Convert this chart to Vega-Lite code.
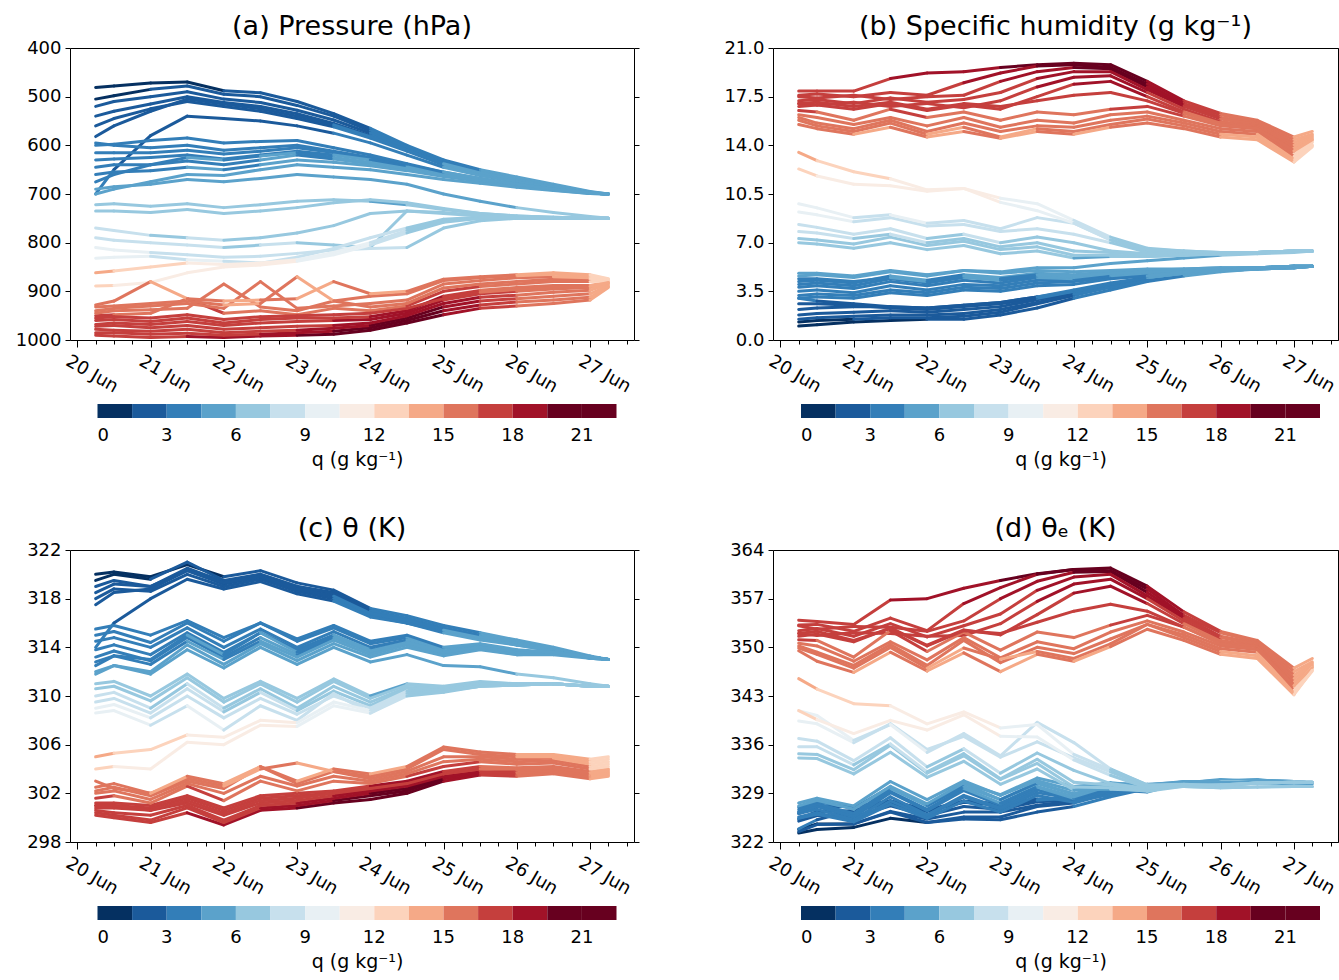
{
"$schema":"https://vega.github.io/schema/vega-lite/v6.json",
"padding":{"left":14,"top":12,"right":0,"bottom":0},
"background":"white",
"data":{"values":[
{"i":1,"d":20.25,"p":481,"q":1.0,"t":320.0,"e":323.3},{"i":1,"d":20.5,"p":478,"q":1.1,"t":320.2,"e":323.8},{"i":1,"d":21,"p":472,"q":1.3,"t":319.8,"e":324.1},{"i":1,"d":21.5,"p":470,"q":1.4,"t":320.8,"e":325.4},{"i":1,"d":22,"p":488,"q":1.5,"t":319.8,"e":324.8},{"i":1,"d":22.5,"p":492,"q":1.5,"t":320.3,"e":325.3},{"i":1,"d":23,"p":510,"q":1.8,"t":319.3,"e":325.2},{"i":1,"d":23.5,"p":535,"q":2.3,"t":318.7,"e":326.3},{"i":1,"d":24,"p":565,"q":3.0,"t":317.2,"e":327.1},{"i":1,"d":24.5,"p":600,"q":3.6,"t":316.6,"e":328.5},{"i":1,"d":25,"p":630,"q":4.2,"t":315.8,"e":329.7},{"i":1,"d":25.5,"p":650,"q":4.6,"t":315.2,"e":330.4},{"i":1,"d":26,"p":665,"q":4.9,"t":314.6,"e":330.8},{"i":1,"d":26.5,"p":680,"q":5.1,"t":314.0,"e":330.8},{"i":1,"d":27,"p":695,"q":5.2,"t":313.3,"e":330.5},{"i":1,"d":27.25,"p":700,"q":5.3,"t":313.0,"e":330.5},
{"i":2,"d":20.25,"p":505,"q":1.3,"t":319.5,"e":323.8},{"i":2,"d":20.5,"p":498,"q":1.4,"t":320.0,"e":324.6},{"i":2,"d":21,"p":485,"q":1.5,"t":319.6,"e":324.6},{"i":2,"d":21.5,"p":478,"q":1.6,"t":321.0,"e":326.3},{"i":2,"d":22,"p":495,"q":1.6,"t":319.5,"e":324.8},{"i":2,"d":22.5,"p":500,"q":1.7,"t":320.0,"e":325.6},{"i":2,"d":23,"p":518,"q":2.0,"t":319.0,"e":325.6},{"i":2,"d":23.5,"p":540,"q":2.6,"t":318.5,"e":327.1},{"i":2,"d":24,"p":570,"q":3.2,"t":317.0,"e":327.6},{"i":2,"d":24.5,"p":603,"q":3.8,"t":316.4,"e":329.0},{"i":2,"d":25,"p":632,"q":4.3,"t":315.6,"e":329.8},{"i":2,"d":25.5,"p":652,"q":4.7,"t":315.0,"e":330.5},{"i":2,"d":26,"p":667,"q":5.0,"t":314.5,"e":331.0},{"i":2,"d":26.5,"p":682,"q":5.1,"t":313.9,"e":330.7},{"i":2,"d":27,"p":696,"q":5.2,"t":313.2,"e":330.4},{"i":2,"d":27.25,"p":700,"q":5.3,"t":313.0,"e":330.5},
{"i":3,"d":20.25,"p":520,"q":1.8,"t":319.0,"e":325.0},{"i":3,"d":20.5,"p":510,"q":1.9,"t":319.5,"e":325.8},{"i":3,"d":21,"p":500,"q":2.0,"t":319.0,"e":325.6},{"i":3,"d":21.5,"p":490,"q":2.1,"t":320.3,"e":327.2},{"i":3,"d":22,"p":505,"q":2.0,"t":319.2,"e":325.8},{"i":3,"d":22.5,"p":512,"q":2.2,"t":319.8,"e":327.1},{"i":3,"d":23,"p":528,"q":2.4,"t":318.8,"e":326.7},{"i":3,"d":23.5,"p":548,"q":2.9,"t":318.2,"e":327.8},{"i":3,"d":24,"p":575,"q":3.4,"t":316.8,"e":328.0},{"i":3,"d":24.5,"p":606,"q":3.9,"t":316.2,"e":329.1},{"i":3,"d":25,"p":635,"q":4.4,"t":315.4,"e":329.9},{"i":3,"d":25.5,"p":655,"q":4.8,"t":314.8,"e":330.6},{"i":3,"d":26,"p":670,"q":5.0,"t":314.3,"e":330.8},{"i":3,"d":26.5,"p":684,"q":5.2,"t":313.8,"e":331.0},{"i":3,"d":27,"p":697,"q":5.2,"t":313.2,"e":330.4},{"i":3,"d":27.25,"p":700,"q":5.3,"t":313.0,"e":330.5},
{"i":4,"d":20.25,"p":540,"q":1.5,"t":318.5,"e":323.5},{"i":4,"d":20.5,"p":530,"q":1.6,"t":319.2,"e":324.5},{"i":4,"d":21,"p":515,"q":1.7,"t":319.0,"e":324.6},{"i":4,"d":21.5,"p":500,"q":1.8,"t":320.5,"e":326.4},{"i":4,"d":22,"p":512,"q":1.8,"t":319.4,"e":325.3},{"i":4,"d":22.5,"p":520,"q":1.9,"t":320.0,"e":326.3},{"i":4,"d":23,"p":535,"q":2.2,"t":319.0,"e":326.3},{"i":4,"d":23.5,"p":555,"q":2.7,"t":318.4,"e":327.3},{"i":4,"d":24,"p":580,"q":3.3,"t":317.0,"e":327.9},{"i":4,"d":24.5,"p":610,"q":3.8,"t":316.3,"e":328.8},{"i":4,"d":25,"p":638,"q":4.3,"t":315.5,"e":329.7},{"i":4,"d":25.5,"p":657,"q":4.7,"t":314.9,"e":330.4},{"i":4,"d":26,"p":672,"q":5.0,"t":314.4,"e":330.9},{"i":4,"d":26.5,"p":686,"q":5.1,"t":313.9,"e":330.7},{"i":4,"d":27,"p":698,"q":5.2,"t":313.2,"e":330.4},{"i":4,"d":27.25,"p":700,"q":5.3,"t":313.0,"e":330.5},
{"i":5,"d":20.25,"p":560,"q":2.2,"t":318.0,"e":325.3},{"i":5,"d":20.5,"p":545,"q":2.3,"t":318.8,"e":326.4},{"i":5,"d":21,"p":525,"q":2.4,"t":318.6,"e":326.5},{"i":5,"d":21.5,"p":510,"q":2.4,"t":320.0,"e":327.9},{"i":5,"d":22,"p":520,"q":2.3,"t":319.0,"e":326.6},{"i":5,"d":22.5,"p":530,"q":2.5,"t":319.6,"e":327.9},{"i":5,"d":23,"p":545,"q":2.7,"t":318.6,"e":327.5},{"i":5,"d":23.5,"p":562,"q":3.1,"t":318.0,"e":328.2},{"i":5,"d":24,"p":585,"q":3.5,"t":316.6,"e":328.2},{"i":5,"d":24.5,"p":612,"q":4.0,"t":316.0,"e":329.2},{"i":5,"d":25,"p":640,"q":4.5,"t":315.3,"e":330.2},{"i":5,"d":25.5,"p":658,"q":4.8,"t":314.7,"e":330.5},{"i":5,"d":26,"p":673,"q":5.0,"t":314.2,"e":330.7},{"i":5,"d":26.5,"p":687,"q":5.2,"t":313.7,"e":330.9},{"i":5,"d":27,"p":698,"q":5.3,"t":313.1,"e":330.6},{"i":5,"d":27.25,"p":700,"q":5.3,"t":313.0,"e":330.5},
{"i":6,"d":20.25,"p":582,"q":2.6,"t":317.5,"e":326.1},{"i":6,"d":20.5,"p":560,"q":2.6,"t":318.5,"e":327.1},{"i":6,"d":21,"p":530,"q":2.5,"t":318.8,"e":327.1},{"i":6,"d":21.5,"p":505,"q":2.3,"t":320.3,"e":327.9},{"i":6,"d":22,"p":515,"q":2.2,"t":319.3,"e":326.6},{"i":6,"d":22.5,"p":525,"q":2.4,"t":319.8,"e":327.7},{"i":6,"d":23,"p":540,"q":2.6,"t":318.8,"e":327.4},{"i":6,"d":23.5,"p":558,"q":3.0,"t":318.2,"e":328.1},{"i":6,"d":24,"p":582,"q":3.5,"t":316.8,"e":328.4},{"i":6,"d":24.5,"p":610,"q":4.0,"t":316.2,"e":329.4},{"i":6,"d":25,"p":638,"q":4.5,"t":315.4,"e":330.3},{"i":6,"d":25.5,"p":657,"q":4.8,"t":314.8,"e":330.6},{"i":6,"d":26,"p":672,"q":5.0,"t":314.3,"e":330.8},{"i":6,"d":26.5,"p":686,"q":5.1,"t":313.8,"e":330.6},{"i":6,"d":27,"p":698,"q":5.2,"t":313.2,"e":330.4},{"i":6,"d":27.25,"p":700,"q":5.3,"t":313.0,"e":330.5},
{"i":7,"d":20.25,"p":700,"q":3.0,"t":314.0,"e":323.9},{"i":7,"d":20.5,"p":650,"q":2.8,"t":316.0,"e":325.2},{"i":7,"d":21,"p":580,"q":2.6,"t":318.0,"e":326.6},{"i":7,"d":21.5,"p":540,"q":2.4,"t":319.6,"e":327.5},{"i":7,"d":22,"p":545,"q":2.3,"t":318.8,"e":326.4},{"i":7,"d":22.5,"p":550,"q":2.5,"t":319.4,"e":327.7},{"i":7,"d":23,"p":560,"q":2.7,"t":318.4,"e":327.3},{"i":7,"d":23.5,"p":575,"q":3.1,"t":317.8,"e":328.0},{"i":7,"d":24,"p":595,"q":3.6,"t":316.5,"e":328.4},{"i":7,"d":24.5,"p":620,"q":4.1,"t":316.0,"e":329.5},{"i":7,"d":25,"p":645,"q":4.5,"t":315.2,"e":330.1},{"i":7,"d":25.5,"p":662,"q":4.8,"t":314.6,"e":330.4},{"i":7,"d":26,"p":675,"q":5.0,"t":314.2,"e":330.7},{"i":7,"d":26.5,"p":688,"q":5.1,"t":313.7,"e":330.5},{"i":7,"d":27,"p":698,"q":5.2,"t":313.1,"e":330.3},{"i":7,"d":27.25,"p":700,"q":5.3,"t":313.0,"e":330.5},
{"i":8,"d":20.25,"p":595,"q":3.2,"t":315.0,"e":325.6},{"i":8,"d":20.5,"p":600,"q":3.3,"t":315.3,"e":326.2},{"i":8,"d":21,"p":605,"q":3.2,"t":314.4,"e":325.0},{"i":8,"d":21.5,"p":600,"q":3.6,"t":316.0,"e":327.9},{"i":8,"d":22,"p":610,"q":3.4,"t":314.5,"e":325.7},{"i":8,"d":22.5,"p":605,"q":3.8,"t":316.0,"e":328.5},{"i":8,"d":23,"p":600,"q":3.7,"t":314.5,"e":326.7},{"i":8,"d":23.5,"p":612,"q":4.1,"t":315.6,"e":329.1},{"i":8,"d":24,"p":625,"q":4.2,"t":314.3,"e":328.2},{"i":8,"d":24.5,"p":640,"q":4.5,"t":314.8,"e":329.7},{"i":8,"d":25,"p":655,"q":4.7,"t":313.9,"e":329.4},{"i":8,"d":25.5,"p":668,"q":4.9,"t":314.2,"e":330.4},{"i":8,"d":26,"p":680,"q":5.1,"t":313.7,"e":330.5},{"i":8,"d":26.5,"p":690,"q":5.2,"t":313.6,"e":330.8},{"i":8,"d":27,"p":698,"q":5.3,"t":313.2,"e":330.7},{"i":8,"d":27.25,"p":700,"q":5.3,"t":313.0,"e":330.5},
{"i":9,"d":20.25,"p":615,"q":3.5,"t":314.5,"e":326.1},{"i":9,"d":20.5,"p":615,"q":3.6,"t":314.8,"e":326.7},{"i":9,"d":21,"p":615,"q":3.4,"t":314.0,"e":325.2},{"i":9,"d":21.5,"p":610,"q":3.9,"t":315.6,"e":328.5},{"i":9,"d":22,"p":618,"q":3.6,"t":314.0,"e":325.9},{"i":9,"d":22.5,"p":612,"q":4.0,"t":315.5,"e":328.7},{"i":9,"d":23,"p":605,"q":3.9,"t":314.0,"e":326.9},{"i":9,"d":23.5,"p":615,"q":4.3,"t":315.3,"e":329.5},{"i":9,"d":24,"p":628,"q":4.3,"t":314.0,"e":328.2},{"i":9,"d":24.5,"p":642,"q":4.6,"t":314.6,"e":329.8},{"i":9,"d":25,"p":657,"q":4.8,"t":313.7,"e":329.5},{"i":9,"d":25.5,"p":668,"q":5.0,"t":314.1,"e":330.6},{"i":9,"d":26,"p":680,"q":5.1,"t":313.6,"e":330.4},{"i":9,"d":26.5,"p":690,"q":5.2,"t":313.6,"e":330.8},{"i":9,"d":27,"p":698,"q":5.3,"t":313.2,"e":330.7},{"i":9,"d":27.25,"p":700,"q":5.3,"t":313.0,"e":330.5},
{"i":10,"d":20.25,"p":630,"q":3.8,"t":313.8,"e":326.3},{"i":10,"d":20.5,"p":628,"q":3.9,"t":314.2,"e":327.1},{"i":10,"d":21,"p":625,"q":3.7,"t":313.4,"e":325.6},{"i":10,"d":21.5,"p":620,"q":4.2,"t":315.2,"e":329.1},{"i":10,"d":22,"p":628,"q":3.9,"t":313.6,"e":326.5},{"i":10,"d":22.5,"p":620,"q":4.3,"t":315.2,"e":329.4},{"i":10,"d":23,"p":612,"q":4.1,"t":313.8,"e":327.3},{"i":10,"d":23.5,"p":620,"q":4.5,"t":315.0,"e":329.9},{"i":10,"d":24,"p":630,"q":4.4,"t":313.8,"e":328.3},{"i":10,"d":24.5,"p":645,"q":4.7,"t":314.4,"e":329.9},{"i":10,"d":25,"p":660,"q":4.8,"t":313.6,"e":329.4},{"i":10,"d":25.5,"p":670,"q":5.0,"t":314.0,"e":330.5},{"i":10,"d":26,"p":681,"q":5.1,"t":313.6,"e":330.4},{"i":10,"d":26.5,"p":690,"q":5.2,"t":313.6,"e":330.8},{"i":10,"d":27,"p":698,"q":5.3,"t":313.2,"e":330.7},{"i":10,"d":27.25,"p":700,"q":5.3,"t":313.0,"e":330.5},
{"i":11,"d":20.25,"p":645,"q":4.0,"t":313.2,"e":326.4},{"i":11,"d":20.5,"p":640,"q":4.1,"t":313.7,"e":327.2},{"i":11,"d":21,"p":640,"q":3.9,"t":312.9,"e":325.8},{"i":11,"d":21.5,"p":632,"q":4.4,"t":314.8,"e":329.3},{"i":11,"d":22,"p":640,"q":4.1,"t":313.2,"e":326.7},{"i":11,"d":22.5,"p":630,"q":4.5,"t":314.8,"e":329.7},{"i":11,"d":23,"p":620,"q":4.3,"t":313.4,"e":327.6},{"i":11,"d":23.5,"p":628,"q":4.6,"t":314.8,"e":330.0},{"i":11,"d":24,"p":638,"q":4.5,"t":313.6,"e":328.5},{"i":11,"d":24.5,"p":650,"q":4.8,"t":314.3,"e":330.1},{"i":11,"d":25,"p":662,"q":4.9,"t":313.5,"e":329.7},{"i":11,"d":25.5,"p":672,"q":5.0,"t":314.0,"e":330.5},{"i":11,"d":26,"p":682,"q":5.1,"t":313.5,"e":330.3},{"i":11,"d":26.5,"p":691,"q":5.2,"t":313.5,"e":330.7},{"i":11,"d":27,"p":698,"q":5.3,"t":313.2,"e":330.7},{"i":11,"d":27.25,"p":700,"q":5.3,"t":313.0,"e":330.5},
{"i":12,"d":20.25,"p":660,"q":4.2,"t":312.8,"e":326.7},{"i":12,"d":20.5,"p":655,"q":4.3,"t":313.3,"e":327.5},{"i":12,"d":21,"p":652,"q":4.1,"t":312.6,"e":326.1},{"i":12,"d":21.5,"p":645,"q":4.6,"t":314.5,"e":329.7},{"i":12,"d":22,"p":650,"q":4.3,"t":313.0,"e":327.2},{"i":12,"d":22.5,"p":640,"q":4.7,"t":314.5,"e":330.0},{"i":12,"d":23,"p":630,"q":4.5,"t":313.2,"e":328.1},{"i":12,"d":23.5,"p":635,"q":4.8,"t":314.6,"e":330.4},{"i":12,"d":24,"p":642,"q":4.7,"t":313.4,"e":328.9},{"i":12,"d":24.5,"p":652,"q":4.9,"t":314.2,"e":330.4},{"i":12,"d":25,"p":664,"q":5.0,"t":313.4,"e":329.9},{"i":12,"d":25.5,"p":674,"q":5.1,"t":313.9,"e":330.7},{"i":12,"d":26,"p":683,"q":5.2,"t":313.4,"e":330.6},{"i":12,"d":26.5,"p":692,"q":5.2,"t":313.5,"e":330.7},{"i":12,"d":27,"p":699,"q":5.3,"t":313.2,"e":330.7},{"i":12,"d":27.25,"p":700,"q":5.3,"t":313.0,"e":330.5},
{"i":13,"d":20.25,"p":675,"q":4.4,"t":312.5,"e":327.0},{"i":13,"d":20.5,"p":660,"q":4.4,"t":313.3,"e":327.8},{"i":13,"d":21,"p":640,"q":4.2,"t":313.0,"e":326.9},{"i":13,"d":21.5,"p":625,"q":4.5,"t":315.0,"e":329.9},{"i":13,"d":22,"p":630,"q":4.2,"t":313.4,"e":327.3},{"i":13,"d":22.5,"p":622,"q":4.6,"t":315.2,"e":330.4},{"i":13,"d":23,"p":615,"q":4.4,"t":313.6,"e":328.1},{"i":13,"d":23.5,"p":625,"q":4.7,"t":315.0,"e":330.5},{"i":13,"d":24,"p":635,"q":4.6,"t":313.7,"e":328.9},{"i":13,"d":24.5,"p":648,"q":4.8,"t":314.4,"e":330.2},{"i":13,"d":25,"p":662,"q":4.9,"t":313.6,"e":329.8},{"i":13,"d":25.5,"p":672,"q":5.0,"t":314.0,"e":330.5},{"i":13,"d":26,"p":682,"q":5.1,"t":313.6,"e":330.4},{"i":13,"d":26.5,"p":691,"q":5.2,"t":313.6,"e":330.8},{"i":13,"d":27,"p":698,"q":5.3,"t":313.2,"e":330.7},{"i":13,"d":27.25,"p":700,"q":5.3,"t":313.0,"e":330.5},
{"i":14,"d":20.25,"p":690,"q":4.6,"t":312.0,"e":327.2},{"i":14,"d":20.5,"p":685,"q":4.7,"t":312.5,"e":328.0},{"i":14,"d":21,"p":680,"q":4.5,"t":311.8,"e":326.7},{"i":14,"d":21.5,"p":670,"q":4.9,"t":313.8,"e":330.0},{"i":14,"d":22,"p":675,"q":4.6,"t":312.3,"e":327.5},{"i":14,"d":22.5,"p":668,"q":5.0,"t":314.0,"e":330.5},{"i":14,"d":23,"p":660,"q":4.9,"t":312.6,"e":328.8},{"i":14,"d":23.5,"p":665,"q":5.2,"t":314.0,"e":331.2},{"i":14,"d":24,"p":670,"q":5.2,"t":312.8,"e":330.0},{"i":14,"d":24.5,"p":680,"q":5.5,"t":313.4,"e":330.5},{"i":14,"d":25,"p":700,"q":5.7,"t":312.5,"e":330.2},{"i":14,"d":25.5,"p":715,"q":5.9,"t":312.4,"e":330.7},{"i":14,"d":26,"p":728,"q":6.1,"t":311.8,"e":330.7},{"i":14,"d":26.5,"p":738,"q":6.2,"t":311.5,"e":330.7},{"i":14,"d":27,"p":746,"q":6.3,"t":311.0,"e":330.5},{"i":14,"d":27.25,"p":750,"q":6.4,"t":310.8,"e":330.6},
{"i":15,"d":20.25,"p":700,"q":4.8,"t":311.8,"e":327.6},{"i":15,"d":20.5,"p":690,"q":4.8,"t":312.5,"e":328.3},{"i":15,"d":21,"p":675,"q":4.6,"t":312.0,"e":327.2},{"i":15,"d":21.5,"p":660,"q":5.0,"t":314.2,"e":330.7},{"i":15,"d":22,"p":662,"q":4.7,"t":312.6,"e":328.1},{"i":15,"d":22.5,"p":650,"q":5.0,"t":314.3,"e":330.8},{"i":15,"d":23,"p":640,"q":4.8,"t":312.9,"e":328.7},{"i":15,"d":23.5,"p":645,"q":5.0,"t":314.3,"e":330.8},{"i":15,"d":24,"p":650,"q":4.9,"t":313.2,"e":329.4},{"i":15,"d":24.5,"p":660,"q":5.0,"t":314.0,"e":330.5},{"i":15,"d":25,"p":670,"q":5.1,"t":313.3,"e":330.1},{"i":15,"d":25.5,"p":678,"q":5.1,"t":313.8,"e":330.6},{"i":15,"d":26,"p":686,"q":5.2,"t":313.4,"e":330.6},{"i":15,"d":26.5,"p":693,"q":5.2,"t":313.4,"e":330.6},{"i":15,"d":27,"p":699,"q":5.3,"t":313.1,"e":330.6},{"i":15,"d":27.25,"p":700,"q":5.3,"t":313.0,"e":330.5},
{"i":16,"d":20.25,"p":600,"q":3.0,"t":315.5,"e":325.4},{"i":16,"d":20.5,"p":598,"q":3.1,"t":315.8,"e":326.0},{"i":16,"d":21,"p":590,"q":3.0,"t":315.0,"e":324.9},{"i":16,"d":21.5,"p":585,"q":3.4,"t":316.2,"e":327.4},{"i":16,"d":22,"p":595,"q":3.2,"t":314.8,"e":325.4},{"i":16,"d":22.5,"p":592,"q":3.6,"t":316.0,"e":327.9},{"i":16,"d":23,"p":590,"q":3.5,"t":314.7,"e":326.3},{"i":16,"d":23.5,"p":605,"q":3.9,"t":315.8,"e":328.7},{"i":16,"d":24,"p":620,"q":4.0,"t":314.5,"e":327.7},{"i":16,"d":24.5,"p":638,"q":4.4,"t":315.0,"e":329.5},{"i":16,"d":25,"p":655,"q":4.6,"t":314.0,"e":329.2},{"i":16,"d":25.5,"p":668,"q":4.9,"t":314.3,"e":330.5},{"i":16,"d":26,"p":680,"q":5.0,"t":313.8,"e":330.3},{"i":16,"d":26.5,"p":690,"q":5.2,"t":313.6,"e":330.8},{"i":16,"d":27,"p":698,"q":5.3,"t":313.2,"e":330.7},{"i":16,"d":27.25,"p":700,"q":5.3,"t":313.0,"e":330.5},
{"i":17,"d":20.25,"p":722,"q":7.0,"t":311.0,"e":334.1},{"i":17,"d":20.5,"p":720,"q":6.9,"t":311.2,"e":334.0},{"i":17,"d":21,"p":725,"q":6.6,"t":310.0,"e":331.8},{"i":17,"d":21.5,"p":720,"q":7.0,"t":311.8,"e":334.9},{"i":17,"d":22,"p":728,"q":6.5,"t":309.8,"e":331.3},{"i":17,"d":22.5,"p":722,"q":6.8,"t":311.2,"e":333.6},{"i":17,"d":23,"p":715,"q":6.2,"t":309.8,"e":330.3},{"i":17,"d":23.5,"p":712,"q":6.4,"t":311.4,"e":332.5},{"i":17,"d":24,"p":715,"q":5.9,"t":310.0,"e":329.5},{"i":17,"d":24.5,"p":722,"q":6.0,"t":311.0,"e":329.6},{"i":17,"d":25,"p":732,"q":6.0,"t":310.8,"e":329.4},{"i":17,"d":25.5,"p":740,"q":6.1,"t":311.2,"e":330.1},{"i":17,"d":26,"p":745,"q":6.2,"t":311.0,"e":330.2},{"i":17,"d":26.5,"p":748,"q":6.3,"t":311.0,"e":330.5},{"i":17,"d":27,"p":750,"q":6.4,"t":310.8,"e":330.6},{"i":17,"d":27.25,"p":750,"q":6.4,"t":310.8,"e":330.6},
{"i":18,"d":20.25,"p":735,"q":7.3,"t":310.6,"e":334.7},{"i":18,"d":20.5,"p":735,"q":7.2,"t":310.8,"e":334.6},{"i":18,"d":21,"p":738,"q":6.9,"t":309.6,"e":332.4},{"i":18,"d":21.5,"p":732,"q":7.4,"t":311.5,"e":335.9},{"i":18,"d":22,"p":740,"q":6.8,"t":309.5,"e":331.9},{"i":18,"d":22.5,"p":735,"q":7.1,"t":311.0,"e":334.4},{"i":18,"d":23,"p":728,"q":6.5,"t":309.5,"e":331.0},{"i":18,"d":23.5,"p":718,"q":6.7,"t":311.2,"e":333.3},{"i":18,"d":24,"p":712,"q":6.1,"t":309.8,"e":329.9},{"i":18,"d":24.5,"p":718,"q":6.1,"t":310.9,"e":329.8},{"i":18,"d":25,"p":730,"q":6.0,"t":310.7,"e":329.3},{"i":18,"d":25.5,"p":740,"q":6.1,"t":311.1,"e":330.0},{"i":18,"d":26,"p":745,"q":6.2,"t":311.0,"e":330.2},{"i":18,"d":26.5,"p":748,"q":6.3,"t":311.0,"e":330.5},{"i":18,"d":27,"p":750,"q":6.4,"t":310.8,"e":330.6},{"i":18,"d":27.25,"p":750,"q":6.4,"t":310.8,"e":330.6},
{"i":19,"d":20.25,"p":770,"q":7.8,"t":310.0,"e":335.7},{"i":19,"d":20.5,"p":775,"q":7.7,"t":310.3,"e":335.7},{"i":19,"d":21,"p":785,"q":7.3,"t":309.0,"e":333.1},{"i":19,"d":21.5,"p":790,"q":7.6,"t":311.0,"e":336.1},{"i":19,"d":22,"p":795,"q":7.0,"t":309.0,"e":332.1},{"i":19,"d":22.5,"p":790,"q":7.3,"t":310.6,"e":334.7},{"i":19,"d":23,"p":780,"q":6.7,"t":309.0,"e":331.1},{"i":19,"d":23.5,"p":765,"q":7.0,"t":310.8,"e":333.9},{"i":19,"d":24,"p":740,"q":6.4,"t":309.5,"e":330.6},{"i":19,"d":24.5,"p":735,"q":6.3,"t":310.7,"e":330.2},{"i":19,"d":25,"p":740,"q":6.1,"t":310.6,"e":329.5},{"i":19,"d":25.5,"p":745,"q":6.2,"t":311.0,"e":330.2},{"i":19,"d":26,"p":747,"q":6.2,"t":311.0,"e":330.2},{"i":19,"d":26.5,"p":749,"q":6.3,"t":311.0,"e":330.5},{"i":19,"d":27,"p":750,"q":6.4,"t":310.8,"e":330.6},{"i":19,"d":27.25,"p":750,"q":6.4,"t":310.8,"e":330.6},
{"i":20,"d":20.25,"p":790,"q":8.3,"t":309.5,"e":336.9},{"i":20,"d":20.5,"p":795,"q":8.1,"t":309.8,"e":336.5},{"i":20,"d":21,"p":800,"q":7.6,"t":308.6,"e":333.7},{"i":20,"d":21.5,"p":805,"q":8.0,"t":310.6,"e":337.0},{"i":20,"d":22,"p":810,"q":7.3,"t":308.7,"e":332.8},{"i":20,"d":22.5,"p":805,"q":7.6,"t":310.3,"e":335.4},{"i":20,"d":23,"p":800,"q":7.0,"t":308.8,"e":331.9},{"i":20,"d":23.5,"p":805,"q":7.4,"t":310.4,"e":334.8},{"i":20,"d":24,"p":810,"q":7.0,"t":309.2,"e":332.3},{"i":20,"d":24.5,"p":735,"q":6.4,"t":310.6,"e":330.4},{"i":20,"d":25,"p":738,"q":6.2,"t":310.5,"e":329.7},{"i":20,"d":25.5,"p":744,"q":6.2,"t":311.0,"e":330.2},{"i":20,"d":26,"p":747,"q":6.2,"t":310.9,"e":330.1},{"i":20,"d":26.5,"p":749,"q":6.3,"t":311.0,"e":330.5},{"i":20,"d":27,"p":750,"q":6.4,"t":310.8,"e":330.6},{"i":20,"d":27.25,"p":750,"q":6.4,"t":310.8,"e":330.6},
{"i":21,"d":20.25,"p":810,"q":9.2,"t":309.0,"e":339.4},{"i":21,"d":20.5,"p":815,"q":9.0,"t":309.3,"e":339.0},{"i":21,"d":21,"p":820,"q":8.5,"t":308.2,"e":336.3},{"i":21,"d":21.5,"p":825,"q":8.8,"t":310.0,"e":339.0},{"i":21,"d":22,"p":830,"q":8.2,"t":308.2,"e":335.3},{"i":21,"d":22.5,"p":828,"q":8.3,"t":309.8,"e":337.2},{"i":21,"d":23,"p":822,"q":7.8,"t":308.5,"e":334.2},{"i":21,"d":23.5,"p":815,"q":8.0,"t":310.0,"e":336.4},{"i":21,"d":24,"p":812,"q":7.6,"t":309.0,"e":334.1},{"i":21,"d":24.5,"p":810,"q":7.0,"t":310.4,"e":332.1},{"i":21,"d":25,"p":770,"q":6.3,"t":310.5,"e":330.0},{"i":21,"d":25.5,"p":755,"q":6.2,"t":310.9,"e":330.1},{"i":21,"d":26,"p":750,"q":6.2,"t":310.9,"e":330.1},{"i":21,"d":26.5,"p":750,"q":6.3,"t":311.0,"e":330.5},{"i":21,"d":27,"p":750,"q":6.4,"t":310.8,"e":330.6},{"i":21,"d":27.25,"p":750,"q":6.4,"t":310.8,"e":330.6},
{"i":22,"d":20.25,"p":832,"q":9.8,"t":308.6,"e":340.9},{"i":22,"d":20.5,"p":830,"q":9.5,"t":308.8,"e":340.2},{"i":22,"d":21,"p":828,"q":8.8,"t":307.6,"e":336.6},{"i":22,"d":21.5,"p":835,"q":9.0,"t":309.2,"e":338.9},{"i":22,"d":22,"p":838,"q":8.4,"t":307.2,"e":334.9},{"i":22,"d":22.5,"p":842,"q":8.6,"t":309.2,"e":337.6},{"i":22,"d":23,"p":830,"q":8.0,"t":308.0,"e":334.4},{"i":22,"d":23.5,"p":812,"q":8.8,"t":310.2,"e":339.2},{"i":22,"d":24,"p":790,"q":8.4,"t":308.6,"e":336.3},{"i":22,"d":24.5,"p":770,"q":7.2,"t":310.2,"e":332.5},{"i":22,"d":25,"p":752,"q":6.4,"t":310.4,"e":330.2},{"i":22,"d":25.5,"p":748,"q":6.3,"t":310.8,"e":330.3},{"i":22,"d":26,"p":749,"q":6.2,"t":310.9,"e":330.1},{"i":22,"d":26.5,"p":750,"q":6.3,"t":311.0,"e":330.5},{"i":22,"d":27,"p":750,"q":6.4,"t":310.8,"e":330.6},{"i":22,"d":27.25,"p":750,"q":6.4,"t":310.8,"e":330.6},
{"i":23,"d":20.25,"p":862,"q":13.5,"t":305.0,"e":345.5},{"i":23,"d":20.5,"p":858,"q":12.9,"t":305.3,"e":344.0},{"i":23,"d":21,"p":850,"q":12.1,"t":305.6,"e":341.9},{"i":23,"d":21.5,"p":842,"q":11.6,"t":306.8,"e":341.6},{"i":23,"d":22,"p":845,"q":10.8,"t":306.6,"e":339.0},{"i":23,"d":22.5,"p":842,"q":10.9,"t":308.0,"e":340.7},{"i":23,"d":23,"p":835,"q":10.2,"t":307.8,"e":338.4},{"i":23,"d":23.5,"p":820,"q":9.8,"t":309.5,"e":338.9},{"i":23,"d":24,"p":800,"q":8.6,"t":308.8,"e":334.6},{"i":23,"d":24.5,"p":775,"q":7.4,"t":310.2,"e":332.4},{"i":23,"d":25,"p":755,"q":6.6,"t":310.4,"e":330.2},{"i":23,"d":25.5,"p":750,"q":6.4,"t":310.8,"e":330.0},{"i":23,"d":26,"p":750,"q":6.3,"t":310.9,"e":329.8},{"i":23,"d":26.5,"p":750,"q":6.3,"t":311.0,"e":329.9},{"i":23,"d":27,"p":750,"q":6.4,"t":310.8,"e":330.0},{"i":23,"d":27.25,"p":750,"q":6.4,"t":310.8,"e":330.0},
{"i":24,"d":20.25,"p":889,"q":12.3,"t":304.0,"e":340.9},{"i":24,"d":20.5,"p":888,"q":11.8,"t":304.2,"e":339.6},{"i":24,"d":21,"p":882,"q":11.2,"t":304.0,"e":337.6},{"i":24,"d":21.5,"p":862,"q":11.1,"t":306.2,"e":339.5},{"i":24,"d":22,"p":850,"q":10.7,"t":306.0,"e":338.1},{"i":24,"d":22.5,"p":846,"q":10.9,"t":307.6,"e":340.3},{"i":24,"d":23,"p":838,"q":9.9,"t":307.5,"e":337.2},{"i":24,"d":23.5,"p":825,"q":9.3,"t":309.2,"e":337.1},{"i":24,"d":24,"p":805,"q":8.4,"t":308.6,"e":333.8},{"i":24,"d":24.5,"p":780,"q":7.2,"t":310.0,"e":331.6},{"i":24,"d":25,"p":758,"q":6.5,"t":310.3,"e":329.8},{"i":24,"d":25.5,"p":750,"q":6.4,"t":310.8,"e":330.0},{"i":24,"d":26,"p":750,"q":6.3,"t":310.9,"e":329.8},{"i":24,"d":26.5,"p":750,"q":6.3,"t":311.0,"e":329.9},{"i":24,"d":27,"p":750,"q":6.4,"t":310.8,"e":330.0},{"i":24,"d":27.25,"p":750,"q":6.4,"t":310.8,"e":330.0},
{"i":25,"d":20.25,"p":990,"q":17.9,"t":300.2,"e":353.9},{"i":25,"d":20.5,"p":992,"q":17.9,"t":300.0,"e":353.7},{"i":25,"d":21,"p":995,"q":17.9,"t":299.6,"e":353.3},{"i":25,"d":21.5,"p":993,"q":18.8,"t":300.4,"e":356.8},{"i":25,"d":22,"p":995,"q":19.2,"t":299.4,"e":357.0},{"i":25,"d":22.5,"p":992,"q":19.3,"t":300.6,"e":358.5},{"i":25,"d":23,"p":990,"q":19.6,"t":300.8,"e":359.6},{"i":25,"d":23.5,"p":988,"q":19.8,"t":301.2,"e":360.6},{"i":25,"d":24,"p":980,"q":19.9,"t":301.5,"e":361.2},{"i":25,"d":24.5,"p":965,"q":19.8,"t":302.0,"e":361.4},{"i":25,"d":25,"p":948,"q":18.6,"t":303.0,"e":358.8},{"i":25,"d":25.5,"p":935,"q":17.2,"t":303.5,"e":355.1},{"i":25,"d":26,"p":930,"q":16.3,"t":303.4,"e":352.3},{"i":25,"d":26.5,"p":925,"q":15.8,"t":303.6,"e":351.0},{"i":25,"d":27,"p":918,"q":14.6,"t":303.2,"e":347.0},{"i":25,"d":27.25,"p":892,"q":15.0,"t":303.4,"e":348.4},
{"i":26,"d":20.25,"p":985,"q":17.6,"t":300.4,"e":353.2},{"i":26,"d":20.5,"p":985,"q":17.7,"t":300.2,"e":353.3},{"i":26,"d":21,"p":988,"q":17.5,"t":299.8,"e":352.3},{"i":26,"d":21.5,"p":986,"q":17.8,"t":300.8,"e":354.2},{"i":26,"d":22,"p":990,"q":17.6,"t":299.6,"e":352.4},{"i":26,"d":22.5,"p":988,"q":18.5,"t":300.8,"e":356.3},{"i":26,"d":23,"p":985,"q":19.2,"t":301.0,"e":358.6},{"i":26,"d":23.5,"p":982,"q":19.7,"t":301.4,"e":360.5},{"i":26,"d":24,"p":975,"q":19.8,"t":301.8,"e":361.2},{"i":26,"d":24.5,"p":960,"q":19.6,"t":302.2,"e":361.0},{"i":26,"d":25,"p":940,"q":18.4,"t":303.2,"e":358.4},{"i":26,"d":25.5,"p":928,"q":17.0,"t":303.6,"e":354.6},{"i":26,"d":26,"p":922,"q":16.2,"t":303.5,"e":352.1},{"i":26,"d":26.5,"p":918,"q":15.7,"t":303.7,"e":350.8},{"i":26,"d":27,"p":912,"q":14.4,"t":303.3,"e":346.5},{"i":26,"d":27.25,"p":890,"q":14.8,"t":303.5,"e":347.9},
{"i":27,"d":20.25,"p":978,"q":17.5,"t":300.6,"e":353.1},{"i":27,"d":20.5,"p":980,"q":17.4,"t":300.4,"e":352.6},{"i":27,"d":21,"p":982,"q":17.6,"t":300.2,"e":353.0},{"i":27,"d":21.5,"p":978,"q":17.3,"t":301.0,"e":352.9},{"i":27,"d":22,"p":985,"q":17.5,"t":299.8,"e":352.3},{"i":27,"d":22.5,"p":982,"q":17.6,"t":301.0,"e":353.8},{"i":27,"d":23,"p":980,"q":18.6,"t":301.2,"e":357.0},{"i":27,"d":23.5,"p":976,"q":19.3,"t":301.6,"e":359.5},{"i":27,"d":24,"p":970,"q":19.6,"t":302.0,"e":360.8},{"i":27,"d":24.5,"p":955,"q":19.5,"t":302.4,"e":360.9},{"i":27,"d":25,"p":932,"q":18.2,"t":303.3,"e":357.9},{"i":27,"d":25.5,"p":920,"q":16.9,"t":303.7,"e":354.4},{"i":27,"d":26,"p":915,"q":16.0,"t":303.6,"e":351.6},{"i":27,"d":26.5,"p":910,"q":15.6,"t":303.8,"e":350.6},{"i":27,"d":27,"p":905,"q":14.2,"t":303.4,"e":346.0},{"i":27,"d":27.25,"p":888,"q":14.7,"t":303.6,"e":347.7},
{"i":28,"d":20.25,"p":972,"q":17.2,"t":300.8,"e":352.4},{"i":28,"d":20.5,"p":970,"q":17.3,"t":300.8,"e":352.7},{"i":28,"d":21,"p":975,"q":17.0,"t":300.6,"e":351.6},{"i":28,"d":21.5,"p":970,"q":17.4,"t":301.2,"e":353.4},{"i":28,"d":22,"p":978,"q":17.1,"t":300.2,"e":351.5},{"i":28,"d":22.5,"p":975,"q":17.3,"t":301.2,"e":353.1},{"i":28,"d":23,"p":972,"q":17.8,"t":301.4,"e":354.8},{"i":28,"d":23.5,"p":970,"q":18.8,"t":301.8,"e":358.2},{"i":28,"d":24,"p":965,"q":19.3,"t":302.2,"e":360.1},{"i":28,"d":24.5,"p":950,"q":19.3,"t":302.6,"e":360.5},{"i":28,"d":25,"p":925,"q":18.0,"t":303.4,"e":357.4},{"i":28,"d":25.5,"p":912,"q":16.8,"t":303.8,"e":354.2},{"i":28,"d":26,"p":908,"q":15.9,"t":303.7,"e":351.4},{"i":28,"d":26.5,"p":902,"q":15.5,"t":303.9,"e":350.4},{"i":28,"d":27,"p":898,"q":14.0,"t":303.5,"e":345.5},{"i":28,"d":27.25,"p":885,"q":14.6,"t":303.7,"e":347.5},
{"i":29,"d":20.25,"p":968,"q":17.0,"t":301.0,"e":352.0},{"i":29,"d":20.5,"p":965,"q":16.9,"t":301.0,"e":351.7},{"i":29,"d":21,"p":968,"q":17.1,"t":300.8,"e":352.1},{"i":29,"d":21.5,"p":962,"q":16.8,"t":301.6,"e":352.0},{"i":29,"d":22,"p":970,"q":17.0,"t":300.6,"e":351.6},{"i":29,"d":22.5,"p":965,"q":16.7,"t":301.6,"e":351.7},{"i":29,"d":23,"p":962,"q":17.2,"t":301.8,"e":353.4},{"i":29,"d":23.5,"p":960,"q":18.2,"t":302.0,"e":356.6},{"i":29,"d":24,"p":958,"q":18.9,"t":302.4,"e":359.1},{"i":29,"d":24.5,"p":945,"q":19.0,"t":302.8,"e":359.8},{"i":29,"d":25,"p":918,"q":17.8,"t":303.6,"e":357.0},{"i":29,"d":25.5,"p":905,"q":16.6,"t":304.0,"e":353.8},{"i":29,"d":26,"p":900,"q":15.7,"t":303.9,"e":351.0},{"i":29,"d":26.5,"p":895,"q":15.4,"t":304.0,"e":350.2},{"i":29,"d":27,"p":892,"q":13.8,"t":303.6,"e":345.0},{"i":29,"d":27.25,"p":883,"q":14.5,"t":303.8,"e":347.3},
{"i":30,"d":20.25,"p":960,"q":16.8,"t":301.2,"e":351.6},{"i":30,"d":20.5,"p":958,"q":16.9,"t":301.2,"e":351.9},{"i":30,"d":21,"p":962,"q":16.6,"t":301.0,"e":350.8},{"i":30,"d":21.5,"p":955,"q":17.0,"t":301.8,"e":352.8},{"i":30,"d":22,"p":965,"q":16.5,"t":300.8,"e":350.3},{"i":30,"d":22.5,"p":958,"q":16.9,"t":301.8,"e":352.5},{"i":30,"d":23,"p":955,"q":16.6,"t":302.0,"e":351.8},{"i":30,"d":23.5,"p":955,"q":17.5,"t":302.2,"e":354.7},{"i":30,"d":24,"p":952,"q":18.4,"t":302.6,"e":357.8},{"i":30,"d":24.5,"p":940,"q":18.6,"t":303.0,"e":358.8},{"i":30,"d":25,"p":910,"q":17.5,"t":303.8,"e":356.3},{"i":30,"d":25.5,"p":898,"q":16.4,"t":304.2,"e":353.4},{"i":30,"d":26,"p":892,"q":15.6,"t":304.1,"e":350.9},{"i":30,"d":26.5,"p":888,"q":15.3,"t":304.2,"e":350.1},{"i":30,"d":27,"p":888,"q":13.6,"t":303.8,"e":344.6},{"i":30,"d":27.25,"p":881,"q":14.4,"t":304.0,"e":347.2},
{"i":31,"d":20.25,"p":950,"q":16.5,"t":301.6,"e":351.1},{"i":31,"d":20.5,"p":948,"q":16.4,"t":301.8,"e":351.0},{"i":31,"d":21,"p":945,"q":15.8,"t":301.2,"e":348.6},{"i":31,"d":21.5,"p":915,"q":16.6,"t":302.6,"e":352.4},{"i":31,"d":22,"p":945,"q":16.0,"t":301.4,"e":349.4},{"i":31,"d":22.5,"p":940,"q":16.4,"t":303.0,"e":352.2},{"i":31,"d":23,"p":948,"q":15.8,"t":302.2,"e":349.6},{"i":31,"d":23.5,"p":935,"q":16.4,"t":303.0,"e":352.2},{"i":31,"d":24,"p":940,"q":16.2,"t":302.8,"e":351.4},{"i":31,"d":24.5,"p":930,"q":16.6,"t":303.4,"e":353.2},{"i":31,"d":25,"p":900,"q":16.8,"t":304.2,"e":354.6},{"i":31,"d":25.5,"p":890,"q":16.1,"t":304.6,"e":352.9},{"i":31,"d":26,"p":885,"q":15.4,"t":304.4,"e":350.6},{"i":31,"d":26.5,"p":880,"q":15.2,"t":304.5,"e":350.1},{"i":31,"d":27,"p":880,"q":13.4,"t":304.0,"e":344.2},{"i":31,"d":27.25,"p":879,"q":14.3,"t":304.2,"e":347.1},
{"i":32,"d":20.25,"p":945,"q":16.2,"t":302.0,"e":350.6},{"i":32,"d":20.5,"p":940,"q":16.0,"t":302.2,"e":350.2},{"i":32,"d":21,"p":938,"q":15.5,"t":301.5,"e":348.0},{"i":32,"d":21.5,"p":935,"q":16.0,"t":302.8,"e":350.8},{"i":32,"d":22,"p":885,"q":15.4,"t":302.0,"e":348.2},{"i":32,"d":22.5,"p":932,"q":16.0,"t":303.4,"e":351.4},{"i":32,"d":23,"p":940,"q":15.3,"t":302.6,"e":348.5},{"i":32,"d":23.5,"p":920,"q":15.8,"t":303.4,"e":350.8},{"i":32,"d":24,"p":932,"q":15.6,"t":303.0,"e":349.8},{"i":32,"d":24.5,"p":925,"q":16.2,"t":303.6,"e":352.2},{"i":32,"d":25,"p":893,"q":16.4,"t":304.6,"e":353.8},{"i":32,"d":25.5,"p":885,"q":15.8,"t":304.8,"e":352.2},{"i":32,"d":26,"p":880,"q":15.2,"t":304.6,"e":350.2},{"i":32,"d":26.5,"p":875,"q":15.0,"t":304.7,"e":349.7},{"i":32,"d":27,"p":875,"q":13.2,"t":304.2,"e":343.8},{"i":32,"d":27.25,"p":877,"q":14.2,"t":304.4,"e":347.0},
{"i":33,"d":20.25,"p":940,"q":16.0,"t":302.2,"e":350.2},{"i":33,"d":20.5,"p":935,"q":15.6,"t":302.5,"e":349.3},{"i":33,"d":21,"p":930,"q":15.2,"t":301.8,"e":347.4},{"i":33,"d":21.5,"p":925,"q":15.8,"t":303.0,"e":350.4},{"i":33,"d":22,"p":935,"q":15.0,"t":302.4,"e":347.4},{"i":33,"d":22.5,"p":880,"q":15.6,"t":304.2,"e":351.0},{"i":33,"d":23,"p":935,"q":15.0,"t":302.8,"e":347.8},{"i":33,"d":23.5,"p":930,"q":15.4,"t":303.8,"e":350.0},{"i":33,"d":24,"p":925,"q":15.3,"t":303.2,"e":349.1},{"i":33,"d":24.5,"p":918,"q":15.8,"t":303.8,"e":351.2},{"i":33,"d":25,"p":885,"q":16.1,"t":305.0,"e":353.3},{"i":33,"d":25.5,"p":878,"q":15.6,"t":305.0,"e":351.8},{"i":33,"d":26,"p":872,"q":15.0,"t":304.8,"e":349.8},{"i":33,"d":26.5,"p":870,"q":14.8,"t":304.9,"e":349.3},{"i":33,"d":27,"p":872,"q":13.0,"t":304.4,"e":343.4},{"i":33,"d":27.25,"p":876,"q":14.0,"t":304.6,"e":346.6},
{"i":34,"d":20.25,"p":932,"q":15.8,"t":302.5,"e":349.9},{"i":34,"d":20.5,"p":930,"q":15.4,"t":302.8,"e":349.0},{"i":34,"d":21,"p":925,"q":15.0,"t":302.0,"e":347.0},{"i":34,"d":21.5,"p":920,"q":15.6,"t":303.2,"e":350.0},{"i":34,"d":22,"p":928,"q":14.8,"t":302.6,"e":347.0},{"i":34,"d":22.5,"p":925,"q":15.3,"t":304.0,"e":349.9},{"i":34,"d":23,"p":870,"q":14.6,"t":304.5,"e":348.3},{"i":34,"d":23.5,"p":920,"q":15.2,"t":303.8,"e":349.4},{"i":34,"d":24,"p":910,"q":15.0,"t":303.4,"e":348.4},{"i":34,"d":24.5,"p":905,"q":15.5,"t":304.0,"e":350.5},{"i":34,"d":25,"p":878,"q":15.9,"t":305.6,"e":353.3},{"i":34,"d":25.5,"p":872,"q":15.4,"t":305.2,"e":351.4},{"i":34,"d":26,"p":868,"q":14.8,"t":305.0,"e":349.4},{"i":34,"d":26.5,"p":865,"q":14.6,"t":305.0,"e":348.8},{"i":34,"d":27,"p":868,"q":12.9,"t":304.6,"e":343.3},{"i":34,"d":27.25,"p":875,"q":14.0,"t":304.8,"e":346.8},
{"i":35,"d":20.25,"p":955,"q":17.0,"t":301.0,"e":352.0},{"i":35,"d":20.5,"p":952,"q":17.1,"t":301.0,"e":352.3},{"i":35,"d":21,"p":955,"q":16.8,"t":300.6,"e":351.0},{"i":35,"d":21.5,"p":948,"q":17.1,"t":301.4,"e":352.7},{"i":35,"d":22,"p":958,"q":16.6,"t":300.4,"e":350.2},{"i":35,"d":22.5,"p":952,"q":17.0,"t":301.4,"e":352.4},{"i":35,"d":23,"p":950,"q":16.8,"t":301.6,"e":352.0},{"i":35,"d":23.5,"p":948,"q":17.2,"t":302.0,"e":353.6},{"i":35,"d":24,"p":945,"q":17.6,"t":302.4,"e":355.2},{"i":35,"d":24.5,"p":935,"q":17.8,"t":302.8,"e":356.2},{"i":35,"d":25,"p":915,"q":17.2,"t":303.6,"e":355.2},{"i":35,"d":25.5,"p":902,"q":16.3,"t":304.0,"e":352.9},{"i":35,"d":26,"p":896,"q":15.5,"t":304.0,"e":350.5},{"i":35,"d":26.5,"p":892,"q":15.2,"t":304.1,"e":349.7},{"i":35,"d":27,"p":890,"q":13.6,"t":303.7,"e":344.5},{"i":35,"d":27.25,"p":882,"q":14.4,"t":303.9,"e":347.1},
{"i":36,"d":20.25,"p":928,"q":15.5,"t":303.0,"e":349.5},{"i":36,"d":20.5,"p":920,"q":15.2,"t":302.4,"e":348.0},{"i":36,"d":21,"p":880,"q":14.8,"t":302.0,"e":346.4},{"i":36,"d":21.5,"p":915,"q":15.3,"t":303.4,"e":349.3},{"i":36,"d":22,"p":920,"q":14.6,"t":302.8,"e":346.6},{"i":36,"d":22.5,"p":918,"q":15.0,"t":304.2,"e":349.2},{"i":36,"d":23,"p":915,"q":14.5,"t":303.0,"e":346.5},{"i":36,"d":23.5,"p":880,"q":15.0,"t":304.0,"e":349.0},{"i":36,"d":24,"p":905,"q":14.8,"t":303.6,"e":348.0},{"i":36,"d":24.5,"p":900,"q":15.3,"t":304.2,"e":350.1},{"i":36,"d":25,"p":875,"q":15.6,"t":305.8,"e":352.6},{"i":36,"d":25.5,"p":870,"q":15.2,"t":305.4,"e":351.0},{"i":36,"d":26,"p":866,"q":14.6,"t":305.2,"e":349.0},{"i":36,"d":26.5,"p":862,"q":14.4,"t":305.2,"e":348.4},{"i":36,"d":27,"p":866,"q":12.8,"t":304.8,"e":343.2},{"i":36,"d":27.25,"p":874,"q":13.9,"t":305.0,"e":346.7}
]},
"transform":[
{"window":[{"op":"lead","field":"d","as":"d2"},{"op":"lead","field":"p","as":"p2"},{"op":"lead","field":"q","as":"q2"},{"op":"lead","field":"t","as":"t2"},{"op":"lead","field":"e","as":"e2"}],"groupby":["i"],"sort":[{"field":"d","order":"ascending"}]},
{"filter":"isValid(datum.d2)"}
],
"bounds":"flush",
"spacing":502,
"resolve":{"scale":{"color":"independent"},"legend":{"color":"independent"}},
"vconcat":[
{"bounds":"flush","spacing":139,"resolve":{"scale":{"color":"independent"},"legend":{"color":"independent"}},"hconcat":[
{"width":564,"height":292,"title":"(a) Pressure (hPa)","resolve":{"axis":{"y":"independent"}},"layer":[
{"mark":{"type":"rule","strokeWidth":3,"strokeCap":"round","clip":true},"encoding":{
"x":{"field":"d","type":"quantitative","scale":{"domain":[19.9,27.6],"nice":false,"zero":false},"axis":{"values":[20,20.25,20.5,20.75,21,21.25,21.5,21.75,22,22.25,22.5,22.75,23,23.25,23.5,23.75,24,24.25,24.5,24.75,25,25.25,25.5,25.75,26,26.25,26.5,26.75,27,27.25,27.5],"labelExpr":"datum.value % 1 === 0 ? datum.value + ' Jun' : ''","tickSize":{"condition":{"test":"datum.value % 1 === 0","value":7},"value":4},"labelAngle":30,"labelAlign":"left","labelBaseline":"top","labelPadding":5,"labelOffset":-6,"labelOverlap":false,"labelFlush":false,"labelBound":false,"title":null}},
"x2":{"field":"d2"},
"y":{"field":"p","type":"quantitative","scale":{"domain":[400,1000],"reverse":true,"nice":false,"zero":false},"axis":{"values":[400,500,600,700,800,900,1000],"format":"d","title":null}},
"y2":{"field":"p2"},
"color":{"field":"q","type":"quantitative","scale":{"type":"quantize","domain":[0,22.5],"range":["#053061","#1b5a9b","#337eb8","#5ba2cb","#97c8df","#c7e0ed","#e8f0f4","#f9ece4","#fcd3bc","#f5a987","#df755d","#c53f3d","#a11228","#67001f","#67001f"]},"legend":{"type":"gradient","orient":"none","legendX":27.5,"legendY":356,"direction":"horizontal","gradientLength":519,"gradientThickness":14,"title":"q (g kg⁻¹)","titleOrient":"bottom","titleAnchor":"middle","titleFontSize":19,"titleFontWeight":"normal","titleColor":"#000","titlePadding":6,"labelFontSize":18,"labelColor":"#000","labelOffset":9,"labelOverlap":false,"labelAlign":"center","labelExpr":"!isFinite(datum.value) ? '0' : (datum.value % 3 === 0 ? format(datum.value, 'd') : '')","padding":0}}}},
{"mark":{"type":"rule","opacity":0},"encoding":{"y":{"aggregate":"min","field":"p","type":"quantitative","axis":{"orient":"right","values":[400,500,600,700,800,900,1000],"labels":false,"title":null,"tickSize":5}}}}
]},
{"width":565,"height":292,"title":"(b) Specific humidity (g kg⁻¹)","resolve":{"axis":{"y":"independent"}},"layer":[
{"mark":{"type":"rule","strokeWidth":3,"strokeCap":"round","clip":true},"encoding":{
"x":{"field":"d","type":"quantitative","scale":{"domain":[19.9,27.6],"nice":false,"zero":false},"axis":{"values":[20,20.25,20.5,20.75,21,21.25,21.5,21.75,22,22.25,22.5,22.75,23,23.25,23.5,23.75,24,24.25,24.5,24.75,25,25.25,25.5,25.75,26,26.25,26.5,26.75,27,27.25,27.5],"labelExpr":"datum.value % 1 === 0 ? datum.value + ' Jun' : ''","tickSize":{"condition":{"test":"datum.value % 1 === 0","value":7},"value":4},"labelAngle":30,"labelAlign":"left","labelBaseline":"top","labelPadding":5,"labelOffset":-6,"labelOverlap":false,"labelFlush":false,"labelBound":false,"title":null}},
"x2":{"field":"d2"},
"y":{"field":"q","type":"quantitative","scale":{"domain":[0,21],"nice":false,"zero":false},"axis":{"values":[0,3.5,7,10.5,14,17.5,21],"format":".1f","title":null}},
"y2":{"field":"q2"},
"color":{"field":"q","type":"quantitative","scale":{"type":"quantize","domain":[0,22.5],"range":["#053061","#1b5a9b","#337eb8","#5ba2cb","#97c8df","#c7e0ed","#e8f0f4","#f9ece4","#fcd3bc","#f5a987","#df755d","#c53f3d","#a11228","#67001f","#67001f"]},"legend":{"type":"gradient","orient":"none","legendX":28,"legendY":356,"direction":"horizontal","gradientLength":519,"gradientThickness":14,"title":"q (g kg⁻¹)","titleOrient":"bottom","titleAnchor":"middle","titleFontSize":19,"titleFontWeight":"normal","titleColor":"#000","titlePadding":6,"labelFontSize":18,"labelColor":"#000","labelOffset":9,"labelOverlap":false,"labelAlign":"center","labelExpr":"!isFinite(datum.value) ? '0' : (datum.value % 3 === 0 ? format(datum.value, 'd') : '')","padding":0}}}},
{"mark":{"type":"rule","opacity":0},"encoding":{"y":{"aggregate":"min","field":"q","type":"quantitative","axis":{"orient":"right","values":[0,3.5,7,10.5,14,17.5,21],"labels":false,"title":null,"tickSize":5}}}}
]}
]},
{"bounds":"flush","spacing":139,"resolve":{"scale":{"color":"independent"},"legend":{"color":"independent"}},"hconcat":[
{"width":564,"height":292,"title":"(c) θ (K)","resolve":{"axis":{"y":"independent"}},"layer":[
{"mark":{"type":"rule","strokeWidth":3,"strokeCap":"round","clip":true},"encoding":{
"x":{"field":"d","type":"quantitative","scale":{"domain":[19.9,27.6],"nice":false,"zero":false},"axis":{"values":[20,20.25,20.5,20.75,21,21.25,21.5,21.75,22,22.25,22.5,22.75,23,23.25,23.5,23.75,24,24.25,24.5,24.75,25,25.25,25.5,25.75,26,26.25,26.5,26.75,27,27.25,27.5],"labelExpr":"datum.value % 1 === 0 ? datum.value + ' Jun' : ''","tickSize":{"condition":{"test":"datum.value % 1 === 0","value":7},"value":4},"labelAngle":30,"labelAlign":"left","labelBaseline":"top","labelPadding":5,"labelOffset":-6,"labelOverlap":false,"labelFlush":false,"labelBound":false,"title":null}},
"x2":{"field":"d2"},
"y":{"field":"t","type":"quantitative","scale":{"domain":[298,322],"nice":false,"zero":false},"axis":{"values":[298,302,306,310,314,318,322],"format":"d","title":null}},
"y2":{"field":"t2"},
"color":{"field":"q","type":"quantitative","scale":{"type":"quantize","domain":[0,22.5],"range":["#053061","#1b5a9b","#337eb8","#5ba2cb","#97c8df","#c7e0ed","#e8f0f4","#f9ece4","#fcd3bc","#f5a987","#df755d","#c53f3d","#a11228","#67001f","#67001f"]},"legend":{"type":"gradient","orient":"none","legendX":27.5,"legendY":356,"direction":"horizontal","gradientLength":519,"gradientThickness":14,"title":"q (g kg⁻¹)","titleOrient":"bottom","titleAnchor":"middle","titleFontSize":19,"titleFontWeight":"normal","titleColor":"#000","titlePadding":6,"labelFontSize":18,"labelColor":"#000","labelOffset":9,"labelOverlap":false,"labelAlign":"center","labelExpr":"!isFinite(datum.value) ? '0' : (datum.value % 3 === 0 ? format(datum.value, 'd') : '')","padding":0}}}},
{"mark":{"type":"rule","opacity":0},"encoding":{"y":{"aggregate":"min","field":"t","type":"quantitative","axis":{"orient":"right","values":[298,302,306,310,314,318,322],"labels":false,"title":null,"tickSize":5}}}}
]},
{"width":565,"height":292,"title":"(d) θₑ (K)","resolve":{"axis":{"y":"independent"}},"layer":[
{"mark":{"type":"rule","strokeWidth":3,"strokeCap":"round","clip":true},"encoding":{
"x":{"field":"d","type":"quantitative","scale":{"domain":[19.9,27.6],"nice":false,"zero":false},"axis":{"values":[20,20.25,20.5,20.75,21,21.25,21.5,21.75,22,22.25,22.5,22.75,23,23.25,23.5,23.75,24,24.25,24.5,24.75,25,25.25,25.5,25.75,26,26.25,26.5,26.75,27,27.25,27.5],"labelExpr":"datum.value % 1 === 0 ? datum.value + ' Jun' : ''","tickSize":{"condition":{"test":"datum.value % 1 === 0","value":7},"value":4},"labelAngle":30,"labelAlign":"left","labelBaseline":"top","labelPadding":5,"labelOffset":-6,"labelOverlap":false,"labelFlush":false,"labelBound":false,"title":null}},
"x2":{"field":"d2"},
"y":{"field":"e","type":"quantitative","scale":{"domain":[322,364],"nice":false,"zero":false},"axis":{"values":[322,329,336,343,350,357,364],"format":"d","title":null}},
"y2":{"field":"e2"},
"color":{"field":"q","type":"quantitative","scale":{"type":"quantize","domain":[0,22.5],"range":["#053061","#1b5a9b","#337eb8","#5ba2cb","#97c8df","#c7e0ed","#e8f0f4","#f9ece4","#fcd3bc","#f5a987","#df755d","#c53f3d","#a11228","#67001f","#67001f"]},"legend":{"type":"gradient","orient":"none","legendX":28,"legendY":356,"direction":"horizontal","gradientLength":519,"gradientThickness":14,"title":"q (g kg⁻¹)","titleOrient":"bottom","titleAnchor":"middle","titleFontSize":19,"titleFontWeight":"normal","titleColor":"#000","titlePadding":6,"labelFontSize":18,"labelColor":"#000","labelOffset":9,"labelOverlap":false,"labelAlign":"center","labelExpr":"!isFinite(datum.value) ? '0' : (datum.value % 3 === 0 ? format(datum.value, 'd') : '')","padding":0}}}},
{"mark":{"type":"rule","opacity":0},"encoding":{"y":{"aggregate":"min","field":"e","type":"quantitative","axis":{"orient":"right","values":[322,329,336,343,350,357,364],"labels":false,"title":null,"tickSize":5}}}}
]}
]}
],
"config":{
"font":"DejaVu Sans",
"view":{"stroke":"#000","strokeWidth":1},
"axis":{"domain":false,"grid":false,"tickColor":"#000","tickWidth":1,"labelColor":"#000","labelFontSize":18,"labelFont":"DejaVu Sans"},
"axisY":{"tickSize":5,"labelPadding":4},
"title":{"fontSize":27,"fontWeight":"normal","color":"#000","offset":-2,"baseline":"alphabetic","font":"DejaVu Sans"},
"legend":{"labelFont":"DejaVu Sans","titleFont":"DejaVu Sans"}
}
}
